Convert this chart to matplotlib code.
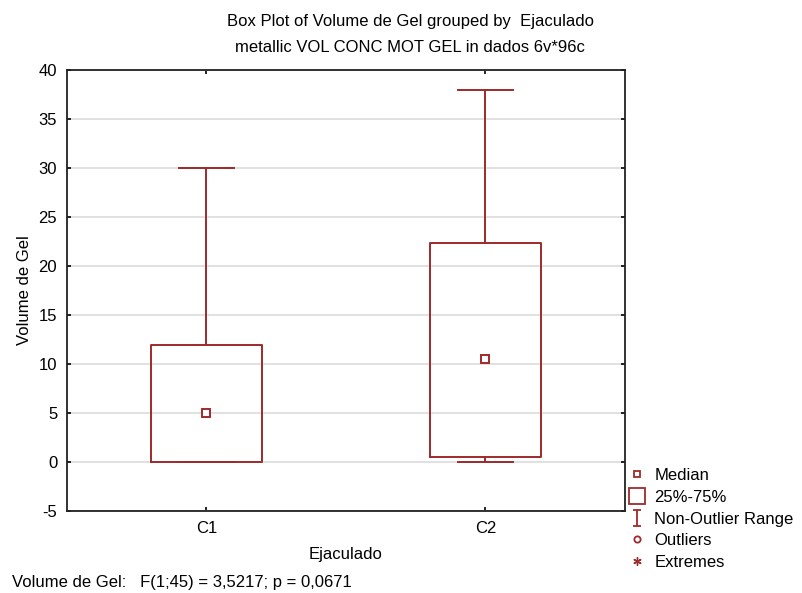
import matplotlib.pyplot as plt
from matplotlib.lines import Line2D
from matplotlib.path import Path

plt.rcParams['font.family'] = ['Liberation Sans', 'DejaVu Sans']
plt.rcParams['axes.unicode_minus'] = False

groups = ['C1', 'C2']
medians = [5.0, 10.5]
q1s = [0.0, 0.5]
q3s = [11.9, 22.4]
whis_lo = [0.0, 0.0]
whis_hi = [30.0, 38.0]
yticks = [-5, 0, 5, 10, 15, 20, 25, 30, 35, 40]
legend_labels = ['Median', '25%-75%', 'Non-Outlier Range', 'Outliers', 'Extremes']

red = '#9e2b2b'
fs = 12

fig = plt.figure(figsize=(8.03, 5.93), dpi=100)
ax = fig.add_axes([0.0834, 0.138, 0.6949, 0.744])

stats = []
for i in range(len(groups)):
    stats.append({'med': medians[i], 'q1': q1s[i], 'q3': q3s[i],
                  'whislo': whis_lo[i], 'whishi': whis_hi[i],
                  'fliers': [], 'label': groups[i]})

pos = list(range(1, len(groups) + 1))
ax.bxp(stats, positions=pos, widths=0.4, showfliers=False,
       boxprops=dict(color=red, linewidth=1.4),
       whiskerprops=dict(color=red, linewidth=1.4),
       capprops=dict(color=red, linewidth=1.4),
       medianprops=dict(linestyle='none'),
       capwidths=0.2, zorder=3)
ax.plot(pos, medians, linestyle='none', marker='s', markersize=6,
        markerfacecolor='white', markeredgecolor=red, markeredgewidth=1.4, zorder=4)

ax.set_xlim(0.5, 2.5)
ax.set_ylim(-5, 40)
ax.set_yticks(yticks)
ax.set_xticks(pos)
ax.set_xticklabels(groups)
ax.yaxis.grid(True, color='#dcdcdc', linewidth=1.2)
ax.set_axisbelow(True)
ax.tick_params(direction='in', length=3, width=1.2, top=True, right=True,
               labelsize=fs, pad=7, colors='black')
for s in ax.spines.values():
    s.set_linewidth(1.3)
    s.set_color('#222222')

ax.set_xlabel('Ejaculado', fontsize=fs, labelpad=8)
ax.set_ylabel('Volume de Gel', fontsize=fs, labelpad=5)

fig.text(0.511, 0.964, 'Box Plot of Volume de Gel grouped by  Ejaculado',
         ha='center', va='center', fontsize=fs)
fig.text(0.511, 0.920, 'metallic VOL CONC MOT GEL in dados 6v*96c',
         ha='center', va='center', fontsize=fs)
fig.text(0.015, 0.017, 'Volume de Gel:   F(1;45) = 3,5217; p = 0,0671',
         ha='left', va='center', fontsize=fs)

ibeam = Path([(-0.5, -1), (0.5, -1), (0, -1), (0, 1), (-0.5, 1), (0.5, 1)],
             [Path.MOVETO, Path.LINETO, Path.MOVETO, Path.LINETO, Path.MOVETO, Path.LINETO])
handles = [
    Line2D([], [], linestyle='none', marker='s', markersize=5, markerfacecolor='white',
           markeredgecolor=red, markeredgewidth=1.3),
    Line2D([], [], linestyle='none', marker='s', markersize=11, markerfacecolor='white',
           markeredgecolor=red, markeredgewidth=1.3),
    Line2D([], [], linestyle='none', marker=ibeam, markersize=11,
           markeredgecolor=red, markeredgewidth=1.3),
    Line2D([], [], linestyle='none', marker='o', markersize=4.5, markerfacecolor='white',
           markeredgecolor=red, markeredgewidth=1.3),
    Line2D([], [], linestyle='none', marker=(6, 2, 0), markersize=6,
           markeredgecolor=red, markeredgewidth=1.0),
]
fig.legend(handles, legend_labels, loc='upper left', bbox_to_anchor=(0.768, 0.230),
           frameon=False, fontsize=fs, handlelength=1.0, handletextpad=0.55,
           labelspacing=0.4, borderpad=0.2)

plt.savefig('out.png', dpi=100)
